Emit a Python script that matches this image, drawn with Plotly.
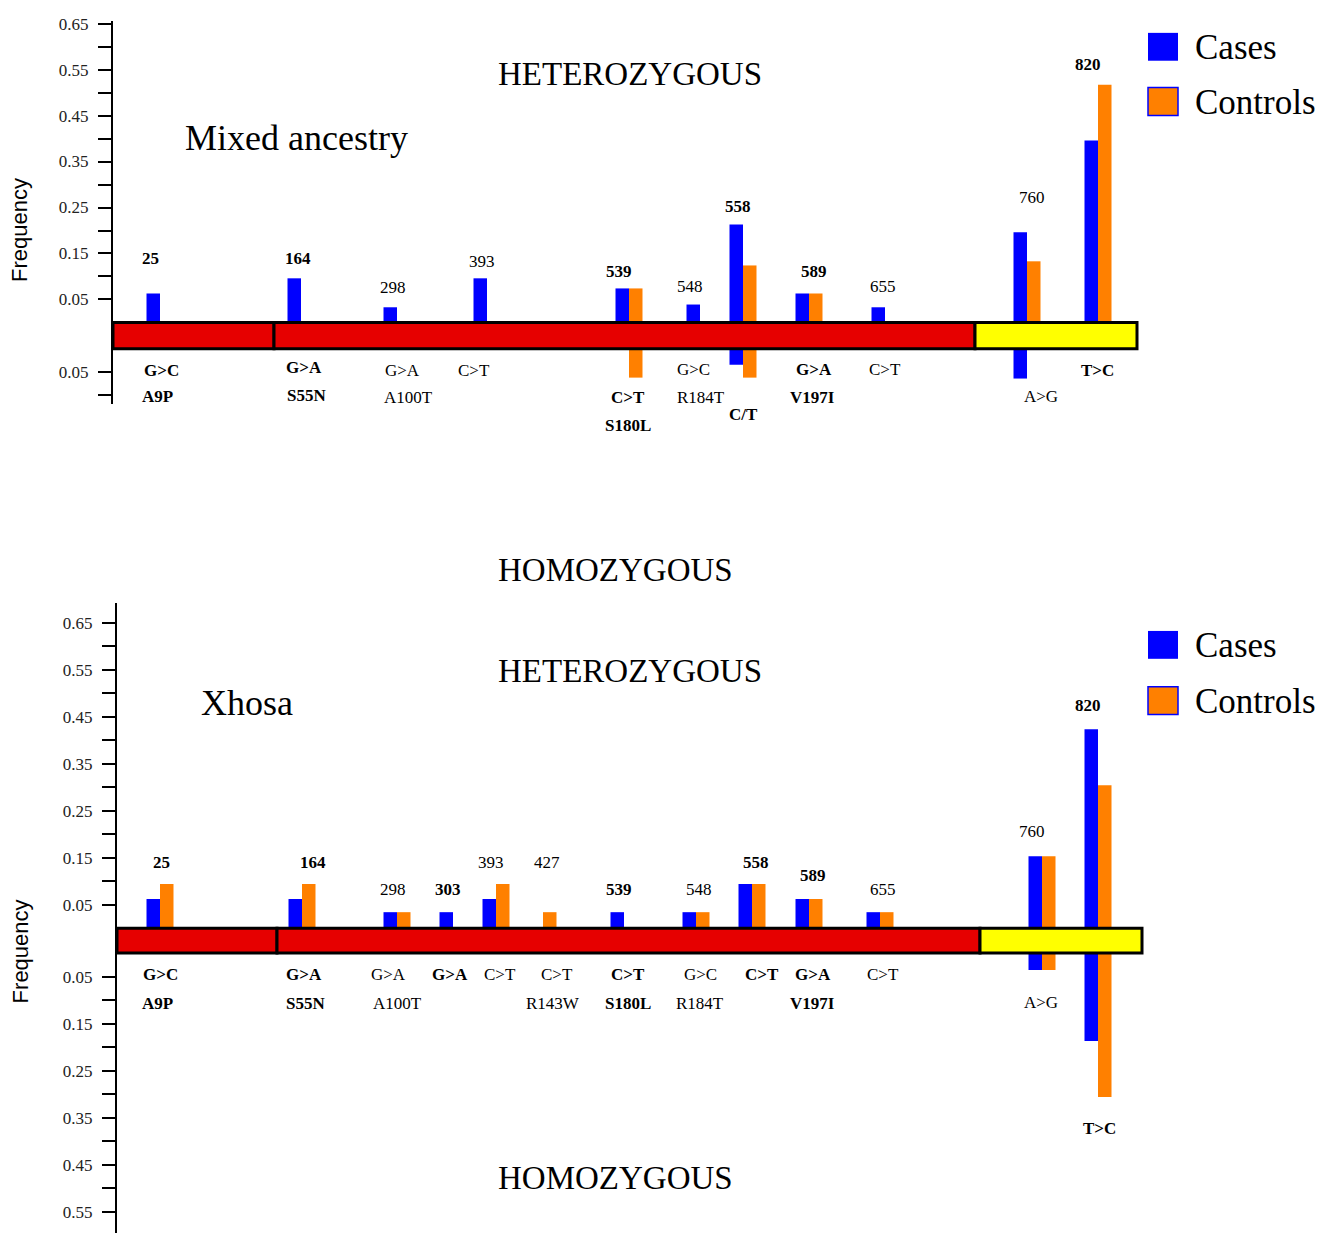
import plotly.graph_objects as go

# ---------------- DATA ----------------
# Panel 1: Mixed ancestry
mix_sites = ["25", "164", "298", "393", "539", "548", "558", "589", "655", "760", "820"]
mix_gene_pos = [47, 188, 284, 374, 516, 587, 630, 696, 772, 914, 985]
mix_het_cases = [0.063, 0.096, 0.033, 0.096, 0.074, 0.039, 0.213, 0.063, 0.033, 0.196, 0.396]
mix_het_controls = [None, None, None, None, 0.074, None, 0.124, 0.063, None, 0.133, 0.517]
mix_hom_cases = [None, None, None, None, None, None, 0.035, None, None, 0.065, None]
mix_hom_controls = [None, None, None, None, 0.063, None, 0.063, None, None, None, None]

# Panel 2: Xhosa
xho_sites = ["25", "164", "298", "303", "393", "427", "539", "548", "558", "589", "655", "760", "820"]
xho_gene_pos = [43, 185, 280, 336, 379, 426, 507, 579, 635, 692, 763, 925, 981]
xho_het_cases = [0.062, 0.062, 0.034, 0.034, 0.062, None, 0.034, 0.034, 0.094, 0.062, 0.034, 0.153, 0.423]
xho_het_controls = [0.094, 0.094, 0.034, None, 0.094, 0.034, None, 0.034, 0.094, 0.062, 0.034, 0.153, 0.304]
xho_hom_cases = [None] * 11 + [0.036, 0.187]
xho_hom_controls = [None] * 11 + [0.036, 0.306]

# gene diagram segments (start, end) in gene-position units
mix_segments = [(0, 161), (161, 862), (862, 1024)]
xho_segments = [(0, 160), (160, 863), (863, 1025)]
segment_colors = ["#E60000", "#E60000", "#FFFF00"]

up_tick_labels = ["0.65", "0.55", "0.45", "0.35", "0.25", "0.15", "0.05"]
mix_down_tick_labels = ["0.05"]
xho_down_tick_labels = ["0.05", "0.15", "0.25", "0.35", "0.45", "0.55"]

# ---------------- STYLE / LAYOUT ----------------
W, H = 1337, 1233
BLUE = "#0000FF"
ORANGE = "#FF8000"
SERIF = "Liberation Serif, Times New Roman, serif"
SANS = "Liberation Sans, Arial, sans-serif"
BW = 13.5  # bar width in gene units


def px(x, y):
    return x / W, 1 - y / H


fig = go.Figure()


def add_panel(xa, ya, pos, hc, hk, oc, ok, gap):
    xr = "x" if xa == "xaxis" else "x2"
    yr = "y" if ya == "yaxis" else "y2"
    for vals, col, off in [(hc, BLUE, -BW), (hk, ORANGE, 0)]:
        fig.add_trace(go.Bar(x=pos, y=vals, base=0, width=BW, offset=off,
                             marker=dict(color=col, line=dict(width=0)),
                             xaxis=xr, yaxis=yr, showlegend=False))
    for vals, col, off in [(oc, BLUE, -BW), (ok, ORANGE, 0)]:
        neg = [(-v if v is not None else None) for v in vals]
        fig.add_trace(go.Bar(x=pos, y=neg, base=-gap, width=BW, offset=off,
                             marker=dict(color=col, line=dict(width=0)),
                             xaxis=xr, yaxis=yr, showlegend=False))


G1 = 0.057
G2 = 0.053
add_panel("xaxis", "yaxis", mix_gene_pos, mix_het_cases, mix_het_controls,
          mix_hom_cases, mix_hom_controls, G1)
add_panel("xaxis2", "yaxis2", xho_gene_pos, xho_het_cases, xho_het_controls,
          xho_hom_cases, xho_hom_controls, G2)

# gene diagram rectangles
for segs, xr, yr, gap in [(mix_segments, "x", "y", G1), (xho_segments, "x2", "y2", G2)]:
    for (a, b), c in zip(segs, segment_colors):
        fig.add_shape(type="rect", xref=xr, yref=yr, x0=a, x1=b, y0=-gap, y1=0,
                      fillcolor=c, line=dict(color="black", width=3), layer="above")


def ticks(up_labels, down_labels, gap, extra_down):
    vals, text = [], []
    for lab in up_labels:
        v = float(lab)
        vals.append(v); text.append(lab)
        vals.append(v - 0.05 if v - 0.05 > 0.01 else None); text.append("")
    for lab in down_labels:
        v = float(lab)
        vals.append(-gap - v); text.append(lab)
        vals.append(-gap - v - 0.05); text.append("")
    for v in extra_down:
        vals.append(-gap - v); text.append("")
    pairs = [(a, b) for a, b in zip(vals, text) if a is not None]
    return [p[0] for p in pairs], [p[1] for p in pairs]


tv1, tt1 = ticks(up_tick_labels, mix_down_tick_labels, G1, [])
tv2, tt2 = ticks(up_tick_labels, xho_down_tick_labels, G2, [0.65])

yax_common = dict(showline=True, linecolor="black", linewidth=2, ticks="outside",
                  ticklen=13, tickwidth=2, tickcolor="black", showgrid=False,
                  zeroline=False, tickfont=dict(family=SERIF, size=17, color="#222"),
                  tickmode="array", ticklabelstandoff=6)
xax_common = dict(showgrid=False, zeroline=False, showticklabels=False,
                  showline=False, ticks="")

fig.update_layout(
    width=W, height=H, margin=dict(l=0, r=0, t=0, b=0),
    plot_bgcolor="white", paper_bgcolor="white", barmode="overlay",
    xaxis=dict(domain=[113 / W, 1], range=[0, W - 113], anchor="y", **xax_common),
    yaxis=dict(domain=[1 - 400 / H, 1 - 15 / H], range=[-(400 - 318) / 462, (318 - 15) / 462],
               anchor="x", tickvals=tv1, ticktext=tt1, **yax_common),
    xaxis2=dict(domain=[117 / W, 1], range=[0, W - 117], anchor="y2", **xax_common),
    yaxis2=dict(domain=[0, 1 - 600 / H], range=[-(H - 925) / 475, (925 - 600) / 470],
                anchor="x2", tickvals=tv2, ticktext=tt2, **yax_common),
)

annotations = []


def txt(s, x, y, size, bold=False, family=SERIF, xanchor="center", angle=0, color="black"):
    ax, ay = px(x, y)
    annotations.append(dict(text=("<b>%s</b>" % s) if bold else s, x=ax, y=ay,
                            xref="paper", yref="paper", showarrow=False,
                            xanchor=xanchor, yanchor="middle", textangle=angle,
                            font=dict(family=family, size=size, color=color)))


# titles
txt("HETEROZYGOUS", 630, 68, 33)
txt("Mixed ancestry", 183, 133, 36, xanchor="left")
txt("HOMOZYGOUS", 615, 567, 33)
txt("HETEROZYGOUS", 630, 668, 33)
txt("Xhosa", 199, 700, 36, xanchor="left")
txt("HOMOZYGOUS", 615, 1178, 33)
txt("Frequency", 20, 225, 22, family=SANS, angle=-90)
txt("Frequency", 20, 950, 22, family=SANS, angle=-90)

# legends
for y_c, y_k in [(41, 96), (642, 698)]:
    fig.add_shape(type="rect", xref="paper", yref="paper",
                  x0=1148 / W, x1=1178 / W, y0=1 - (y_c + 14) / H, y1=1 - (y_c - 14) / H,
                  fillcolor=BLUE, line=dict(width=0))
    fig.add_shape(type="rect", xref="paper", yref="paper",
                  x0=1148 / W, x1=1178 / W, y0=1 - (y_k + 14) / H, y1=1 - (y_k - 14) / H,
                  fillcolor=ORANGE, line=dict(color=BLUE, width=1.5))
    txt("Cases", 1193, y_c + 1, 35, xanchor="left")
    txt("Controls", 1193, y_k + 1, 35, xanchor="left")

# site number labels (x, y, bold)
top_nums = [(150, 254, True), (298, 254, True), (393, 283, False), (482, 257, False),
            (619, 267, True), (690, 282, False), (738, 201, True), (814, 267, True),
            (883, 282, False), (1032, 192, False), (1088, 59, True)]
for s, (x, y, b) in zip(mix_sites, top_nums):
    txt(s, x, y, 17, bold=b)

bot_nums = [(161, 861, True), (313, 861, True), (393, 888, False), (448, 888, True),
            (491, 861, False), (547, 861, False), (619, 888, True), (699, 888, False),
            (756, 861, True), (813, 874, True), (883, 888, False), (1032, 830, False),
            (1088, 703, True)]
for s, (x, y, b) in zip(xho_sites, bot_nums):
    txt(s, x, y, 17, bold=b)

# mutation / amino-acid labels
top_subs = [("G&gt;C", 161, 366, True), ("A9P", 157, 392, True),
            ("G&gt;A", 304, 363, True), ("S55N", 306, 391, True),
            ("G&gt;A", 402, 366, False), ("A100T", 409, 393, False),
            ("C&gt;T", 474, 366, False),
            ("C&gt;T", 628, 393, True), ("S180L", 628, 422, True),
            ("G&gt;C", 693, 365, False), ("R184T", 701, 393, False),
            ("C/T", 743, 410, True),
            ("G&gt;A", 814, 365, True), ("V197I", 813, 393, True),
            ("C&gt;T", 885, 365, False),
            ("A&gt;G", 1041, 392, False), ("T&gt;C", 1097, 366, True)]
bot_subs = [("G&gt;C", 160, 973, True), ("A9P", 157, 1002, True),
            ("G&gt;A", 304, 973, True), ("S55N", 305, 1002, True),
            ("G&gt;A", 388, 973, False), ("A100T", 397, 1002, False),
            ("G&gt;A", 450, 973, True),
            ("C&gt;T", 500, 973, False),
            ("C&gt;T", 557, 973, False), ("R143W", 553, 1002, False),
            ("C&gt;T", 628, 973, True), ("S180L", 628, 1002, True),
            ("G&gt;C", 700, 973, False), ("R184T", 700, 1002, False),
            ("C&gt;T", 762, 973, True),
            ("G&gt;A", 813, 973, True), ("V197I", 813, 1002, True),
            ("C&gt;T", 883, 973, False),
            ("A&gt;G", 1041, 1001, False), ("T&gt;C", 1099, 1128, True)]
for s, x, y, b in top_subs + bot_subs:
    txt(s, x, y, 17, bold=b)

fig.update_layout(annotations=annotations)
fig.write_html(
    "out.html",
    config={"displayModeBar": False},
    post_script=("document.body.style.margin='0';document.body.style.overflow='hidden';"
                 "var d=document.getElementById('{plot_id}');"
                 "d.style.position='absolute';d.style.left='0px';d.style.top='0px';"),
)
